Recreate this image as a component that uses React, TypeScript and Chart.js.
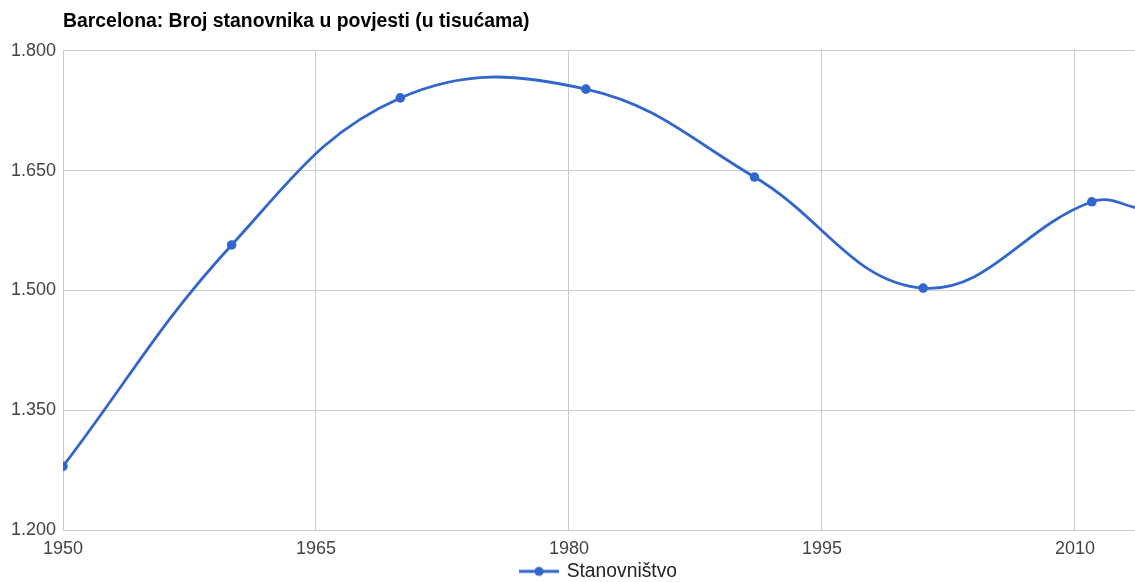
import React, { useEffect, useRef } from 'react';
import { Chart, registerables } from 'chart.js';

Chart.register(...registerables);

const titleText = 'Barcelona: Broj stanovnika u povjesti (u tisućama)';
const seriesName = 'Stanovništvo';
const years = [1950, 1960, 1970, 1981, 1991, 2001, 2011, 2014];
const population = [1280, 1557, 1741, 1752, 1642, 1503, 1611, 1602];
const xTicks = [1950, 1965, 1980, 1995, 2010];
const yTicks = [1200, 1350, 1500, 1650, 1800];

const COLOR = '#3366cc';
const FAMILY = 'Arial, "Liberation Sans", sans-serif';

function fmt(v: number): string {
  const th = Math.floor(v / 1000);
  const rest = String(Math.round(v % 1000)).padStart(3, '0');
  return th > 0 ? `${th}.${rest}` : String(v);
}

export default function App() {
  const ref = useRef<HTMLCanvasElement>(null);
  useEffect(() => {
    const icon = document.createElement('canvas');
    icon.width = 40;
    icon.height = 12;
    const g = icon.getContext('2d')!;
    g.strokeStyle = COLOR;
    g.lineWidth = 2.8;
    g.beginPath();
    g.moveTo(0, 6);
    g.lineTo(40, 6);
    g.stroke();
    g.fillStyle = COLOR;
    g.beginPath();
    g.arc(20, 6, 4.6, 0, Math.PI * 2);
    g.fill();

    const chart = new Chart(ref.current!, {
      type: 'line',
      data: {
        datasets: [
          {
            label: seriesName,
            data: years.map((x, i) => ({ x, y: population[i] })),
            borderColor: COLOR,
            backgroundColor: COLOR,
            borderWidth: 2.8,
            pointRadius: 4.8,
            pointBackgroundColor: COLOR,
            pointBorderWidth: 0,
            tension: 0.4,
            fill: false,
          },
        ],
      },
      options: {
        animation: false,
        responsive: false,
        maintainAspectRatio: false,
        layout: { autoPadding: false, padding: { left: 0, right: 0, top: 0, bottom: 0 } },
        plugins: {
          title: {
            display: true,
            text: titleText,
            align: 'start',
            fullSize: false,
            color: '#000',
            font: { family: FAMILY, size: 19.4, weight: 'bold' },
            padding: { top: 10, bottom: 17.5 },
          },
          legend: {
            position: 'bottom',
            fullSize: false,
            labels: {
              usePointStyle: true,
              pointStyle: icon as any,
              pointStyleWidth: 36,
              boxHeight: 12,
              color: '#222',
              font: { family: FAMILY, size: 19.3 },
              padding: 0,
            },
          },
          tooltip: { enabled: false },
        },
        scales: {
          x: {
            type: 'linear',
            min: 1950,
            max: 2013.56,
            afterBuildTicks: (s: any) => {
              s.ticks = xTicks.map((v) => ({ value: v }));
            },
            afterFit: (s: any) => {
              s.height = 31.5;
              s.paddingLeft = 0;
              s.paddingRight = 0;
            },
            grid: { color: '#cccccc', drawTicks: false },
            border: { display: false },
            ticks: {
              padding: 8,
              color: '#444',
              font: { family: FAMILY, size: 18 },
              maxRotation: 0,
              autoSkip: false,
              callback: (v: any) => String(v),
            },
          },
          y: {
            type: 'linear',
            min: 1200,
            max: 1800,
            afterBuildTicks: (s: any) => {
              s.ticks = yTicks.map((v) => ({ value: v }));
            },
            afterFit: (s: any) => {
              s.width = 63;
              s.paddingTop = 0;
              s.paddingBottom = 0;
            },
            grid: { color: '#cccccc', drawTicks: false },
            border: { display: false },
            ticks: {
              padding: 7,
              color: '#444',
              font: { family: FAMILY, size: 18 },
              callback: (v: any) => fmt(Number(v)),
            },
          },
        },
      },
    });
    return () => chart.destroy();
  }, []);

  return (
    <div style={{ position: 'fixed', left: 0, top: 0, width: 1135, height: 582, overflow: 'hidden', background: '#fff' }}>
      <canvas ref={ref} width={1135} height={591} style={{ display: 'block' }} />
    </div>
  );
}
